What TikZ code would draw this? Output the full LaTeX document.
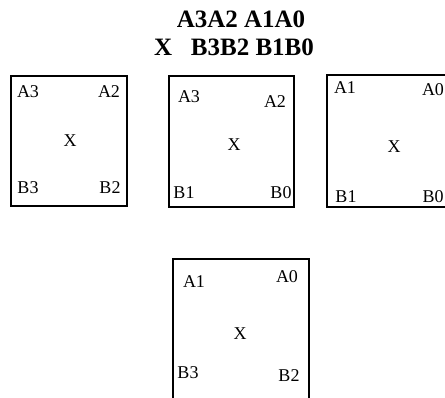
\documentclass[tikz,border=0pt]{standalone}
\usepackage{fontspec}
\setmainfont{Liberation Serif}
\tikzset{
  panel/.style={draw=black, line width=2.4pt},
  lbl/.style={font=\fontsize{18}{20}\selectfont, inner sep=0pt},
  ttl/.style={font=\fontsize{25}{28}\selectfont\bfseries, inner sep=0pt}
}
\begin{document}
\begin{tikzpicture}[x=1pt,y=-1pt]
\useasboundingbox (0,0) rectangle (445,398);
\clip (0,0) rectangle (445,398);
% title
\node[ttl] (t1) at (241,19) {A3A2 A1A0};
\node[ttl] (t2) at (234,47) {X\hspace{0.5em} B3B2 B1B0};
% box 1
\draw[panel] (11,76) rectangle (127,206);
\node[lbl] (b1a3) at (28,92) {A3};
\node[lbl] (b1a2) at (109,92) {A2};
\node[lbl] (b1x) at (70,141) {X};
\node[lbl] (b1b3) at (28,188) {B3};
\node[lbl] (b1b2) at (110,188) {B2};
% box 2
\draw[panel] (169,76) rectangle (294,207);
\node[lbl] (b2a3) at (189,97) {A3};
\node[lbl] (b2a2) at (275,102) {A2};
\node[lbl] (b2x) at (234,145) {X};
\node[lbl] (b2b1) at (184,193) {B1};
\node[lbl] (b2b0) at (281,193) {B0};
% box 3
\draw[panel] (327,75) rectangle (452,207);
\node[lbl] (b3a1) at (345,88) {A1};
\node[lbl] (b3a0) at (433,90) {A0};
\node[lbl] (b3x) at (394,147) {X};
\node[lbl] (b3b1) at (346,197) {B1};
\node[lbl] (b3b0) at (433,197) {B0};
% box 4
\draw[panel] (173,259) rectangle (309,405);
\node[lbl] (b4a1) at (194,282) {A1};
\node[lbl] (b4a0) at (287,277) {A0};
\node[lbl] (b4x) at (240,334) {X};
\node[lbl] (b4b3) at (188,373) {B3};
\node[lbl] (b4b2) at (289,376) {B2};
\end{tikzpicture}
\end{document}
